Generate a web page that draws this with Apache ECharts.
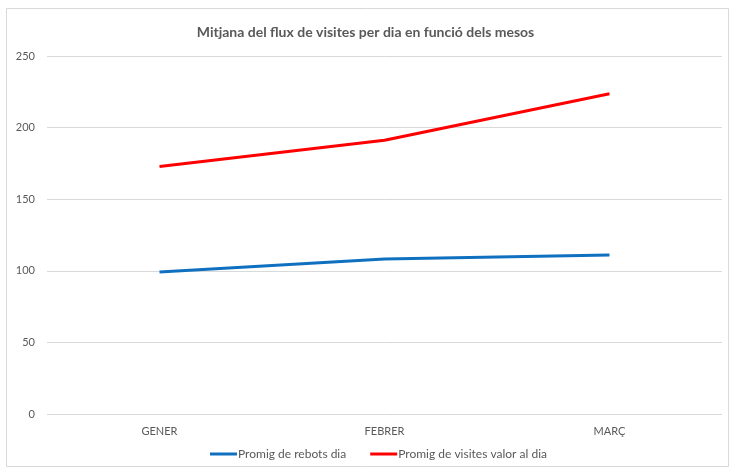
<!DOCTYPE html>
<html>
<head>
<meta charset="utf-8">
<script src="https://cdn.jsdelivr.net/npm/echarts@6/dist/echarts.min.js"></script>
<style>
  html, body { margin: 0; padding: 0; background: #fff; }
  #chart { width: 731px; height: 471px; }
</style>
</head>
<body>
<div id="chart"></div>
<script>
const months = ['GENER', 'FEBRER', 'MARÇ']
const rebots = [99.2, 108.3, 111.1]
const visites = [172.8, 191.2, 223.7]
const seriesNames = ['Promig de rebots dia', 'Promig de visites valor al dia']

const chart = echarts.init(document.getElementById('chart'))
const textColor = '#595959'
const font = 'Lato'

const option = {
  color: ['#1070C0', '#FF0000'],
  animation: false,
  graphic: [{
    type: 'rect',
    shape: { x: 6.5, y: 8.5, width: 722, height: 458 },
    style: { fill: 'none', stroke: '#d9d9d9', lineWidth: 1 }
  }],
  title: {
    text: 'Mitjana del flux de visites per dia en funció dels mesos',
    left: 'center',
    top: 20,
    textStyle: { color: textColor, fontSize: 14, fontWeight: 'bold', fontFamily: font }
  },
  legend: {
    bottom: 6,
    left: 205,
    itemWidth: 27,
    itemHeight: 3,
    itemGap: 24,
    icon: 'rect',
    data: seriesNames,
    textStyle: { color: textColor, fontSize: 12, fontFamily: font, padding: [0, 0, 0, -4] }
  },
  grid: { left: 47, right: 9, top: 56, bottom: 57 },
  xAxis: {
    type: 'category',
    data: months,
    boundaryGap: true,
    axisLine: { show: false },
    axisTick: { show: false },
    axisLabel: { color: textColor, fontSize: 11, fontFamily: font, margin: 12 }
  },
  yAxis: {
    type: 'value',
    min: 0,
    max: 250,
    interval: 50,
    axisLine: { show: false },
    axisTick: { show: false },
    splitLine: { lineStyle: { color: '#d9d9d9', width: 1 } },
    axisLabel: { color: textColor, fontSize: 11, fontFamily: font, margin: 12 }
  },
  series: [{
    name: seriesNames[0],
    type: 'line',
    data: rebots,
    symbol: 'none',
    lineStyle: { width: 3 }
  }, {
    name: seriesNames[1],
    type: 'line',
    data: visites,
    symbol: 'none',
    lineStyle: { width: 3 }
  }]
}

chart.setOption(option)
</script>
</body>
</html>
